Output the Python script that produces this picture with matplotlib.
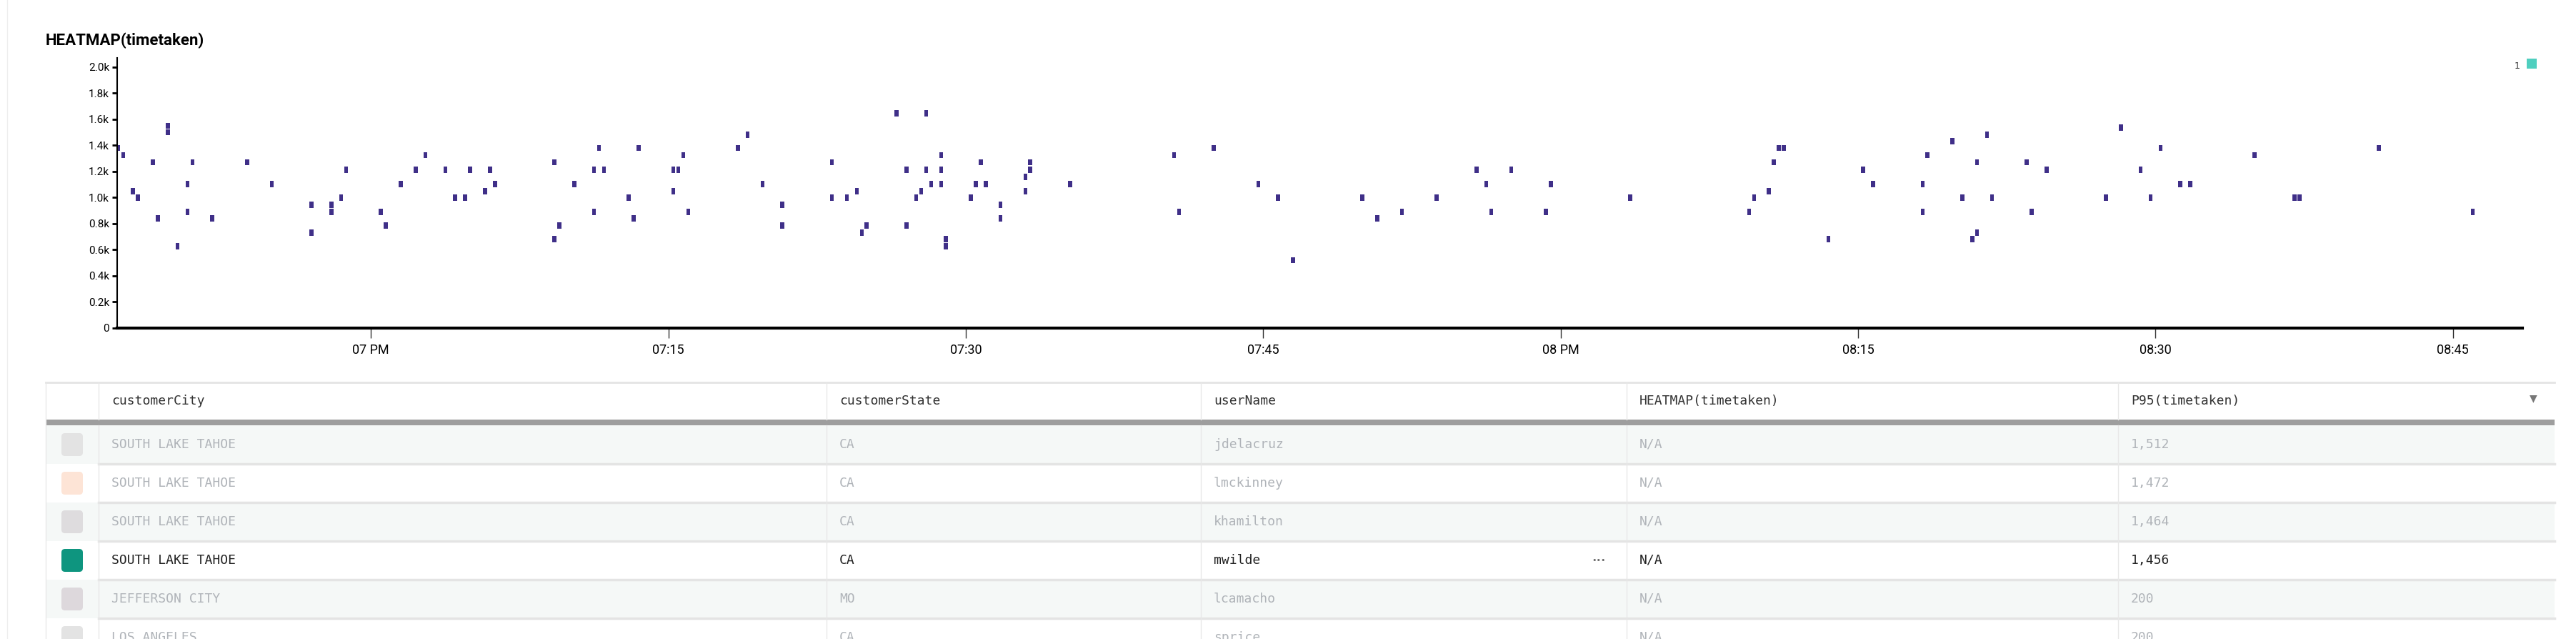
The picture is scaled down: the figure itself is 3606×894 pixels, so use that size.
import matplotlib
matplotlib.use("Agg")
import matplotlib.pyplot as plt
from matplotlib.patches import Rectangle, FancyBboxPatch

# minutes after 19:00 (15-second bins) and timetaken bin centres
minutes = [-12.75,-12.5,-12.0,-11.75,-11.0,-10.75,-10.25,-10.25,-9.75,-9.25,-9.25,-9.0,-8.0,-6.25,-5.0,
           -3.0,-3.0,-2.0,-2.0,-1.5,-1.25,0.5,0.75,1.5,2.25,2.75,3.75,4.25,4.75,5.0,5.75,6.0,6.25,
           9.25,9.25,9.5,10.25,11.25,11.25,11.5,11.75,13.0,13.25,13.5,15.25,15.25,15.5,15.75,16.0,
           18.5,19.0,19.75,20.75,20.75,23.25,23.25,24.0,24.5,24.75,25.0,26.5,27.0,27.0,27.5,27.75,
           28.0,28.0,28.25,28.75,28.75,28.75,29.0,29.0,30.25,30.5,30.75,31.0,31.75,31.75,33.0,33.0,
           33.25,33.25,35.25,40.5,40.75,42.5,44.75,45.75,
           46.5,50.0,50.75,52.0,53.75,55.75,56.25,56.5,57.5,59.25,59.5,63.5,69.5,69.75,70.5,70.75,
           71.0,71.25,73.5,75.25,75.75,78.25,78.25,78.5,79.75,80.25,80.75,81.0,81.0,81.5,81.75,
           83.5,83.75,84.5,87.5,88.25,89.25,89.75,90.25,91.25,91.75,95.0,97.0,97.25,101.25,106.0]
timetaken = [1380,1325,1050,1000,1270,840,1500,1550,625,1105,890,1270,840,1270,1105,
             945,730,945,890,1000,1215,890,785,1105,1215,1325,1215,1000,1000,1215,1050,1215,1105,
             1270,680,785,1105,1215,890,1380,1215,1000,840,1380,1050,1215,1215,1325,890,
             1380,1480,1105,945,785,1270,1000,1000,1050,730,785,1645,1215,785,1000,1050,
             1645,1215,1105,1325,1215,1105,680,625,1000,1105,1270,1105,945,840,1160,1050,
             1270,1215,1105,1325,890,1380,1105,1000,
             520,1000,840,890,1000,1215,1105,890,1215,890,1105,1000,890,1000,1050,1270,
             1380,1380,680,1215,1105,1105,890,1325,1430,1000,680,730,1270,1480,1000,
             1270,890,1215,1000,1535,1215,1000,1380,1105,1105,1325,1000,1000,1380,890]
tick_minutes = [0, 15, 30, 45, 60, 75, 90, 105]
tick_labels = ["07 PM", "07:15", "07:30", "07:45", "08 PM", "08:15", "08:30", "08:45"]
y_ticks = [0, 200, 400, 600, 800, 1000, 1200, 1400, 1600, 1800, 2000]
y_labels = ["0", "0.2k", "0.4k", "0.6k", "0.8k", "1.0k", "1.2k", "1.4k", "1.6k", "1.8k", "2.0k"]

columns = ["customerCity", "customerState", "userName", "HEATMAP(timetaken)", "P95(timetaken)"]
cities = ["SOUTH LAKE TAHOE", "SOUTH LAKE TAHOE", "SOUTH LAKE TAHOE", "SOUTH LAKE TAHOE", "JEFFERSON CITY", "LOS ANGELES"]
states = ["CA", "CA", "CA", "CA", "MO", "CA"]
users = ["jdelacruz", "lmckinney", "khamilton", "mwilde", "lcamacho", "sprice"]
heat = ["N/A"] * 6
p95 = ["1,512", "1,472", "1,464", "1,456", "200", "200"]
swatches = ["#e3e3e3", "#fde4d6", "#dedcde", "#0e957f", "#ddd8dc", "#e3e3e3"]

W, H = 3606, 894
fig = plt.figure(figsize=(W / 100, H / 100), dpi=100)
bg = fig.add_axes([0, 0, 1, 1])
bg.set_xlim(0, W); bg.set_ylim(H, 0); bg.axis("off")

# title
bg.text(64, 57, "HEATMAP(timetaken)", fontsize=16, fontweight="bold", va="center", family="Roboto")
bg.plot([10, 10], [0, H], color="#eeeeee", lw=1)

# table
col_x = [64, 138, 1157, 1681, 2277, 2965, 3576]
top, hdr_bot, band_bot, row_h = 535, 587, 595, 54
bg.plot([64, 3576], [top, top], color="#e4e4e4", lw=2)
for i, c in enumerate(columns):
    bg.text(col_x[i + 1] + 18, (top + hdr_bot) / 2, c, fontsize=13, va="center",
            family="DejaVu Sans Mono", color="#333333")
bg.add_patch(Rectangle((64, hdr_bot), 3576 - 64, band_bot - hdr_bot, color="#9e9e9e", lw=0))
bg.text(3546, 557, "▼", fontsize=10, ha="center", va="center", color="#777777")
for r in range(6):
    y0 = band_bot + r * row_h
    face = "#f5f8f7" if r % 2 == 0 else "white"
    bg.add_patch(Rectangle((64, y0), 3576 - 64, row_h, color=face, lw=0, zorder=0))
    bg.plot([138, 3576], [y0 + row_h, y0 + row_h], color="#e4e4e4", lw=2.5)
    bg.add_patch(FancyBboxPatch((86, y0 + 11), 30, row_h - 22, boxstyle="round,pad=0,rounding_size=5",
                                color=swatches[r], lw=0))
    col = "#222222" if r == 3 else "#b0b4b9"
    vals = [cities[r], states[r], users[r], heat[r], p95[r]]
    for i, v in enumerate(vals):
        bg.text(col_x[i + 1] + 18, y0 + row_h / 2, v, fontsize=13, va="center",
                family="DejaVu Sans Mono", color=col)
    if r == 3:
        bg.text(2238, y0 + row_h / 2, "•••", fontsize=8, ha="center", va="center", color="#666666")
for x in col_x[1:-1]:
    bg.plot([x, x], [top, hdr_bot], color="#e8e8e8", lw=1)
    bg.plot([x, x], [band_bot, H], color="#e8e8e8", lw=1)
bg.plot([64, 64], [top, H], color="#e8e8e8", lw=1)

# legend
bg.add_patch(Rectangle((3537, 82), 14, 14, color="#4fcfbf", lw=0))
bg.text(3528, 93, "1", fontsize=9, ha="right", va="center", color="#333333")

# heatmap chart
ax = fig.add_axes([164 / W, (H - 459) / H, (3531 - 164) / W, (459 - 81) / H])
for t, v in zip(minutes, timetaken):
    ax.add_patch(Rectangle((t - 0.1, v - 24), 0.2, 48, color="#3f2f88", lw=0))
ax.set_xlim(-12.8, 108.5)
ax.set_ylim(0, 2070)
ax.set_xticks(tick_minutes)
ax.set_xticklabels(tick_labels, fontsize=13, family="Roboto")
ax.set_yticks(y_ticks)
ax.set_yticklabels(y_labels, fontsize=11, family="Roboto")
for s in ["top", "right"]:
    ax.spines[s].set_visible(False)
ax.spines["bottom"].set_linewidth(3)
ax.spines["left"].set_linewidth(1.5)
ax.tick_params(axis="x", length=10, width=1, color="#333333", pad=6)
ax.tick_params(axis="y", length=5, width=2, pad=3)
ax.patch.set_alpha(0)

fig.savefig("out.png", dpi=100)
